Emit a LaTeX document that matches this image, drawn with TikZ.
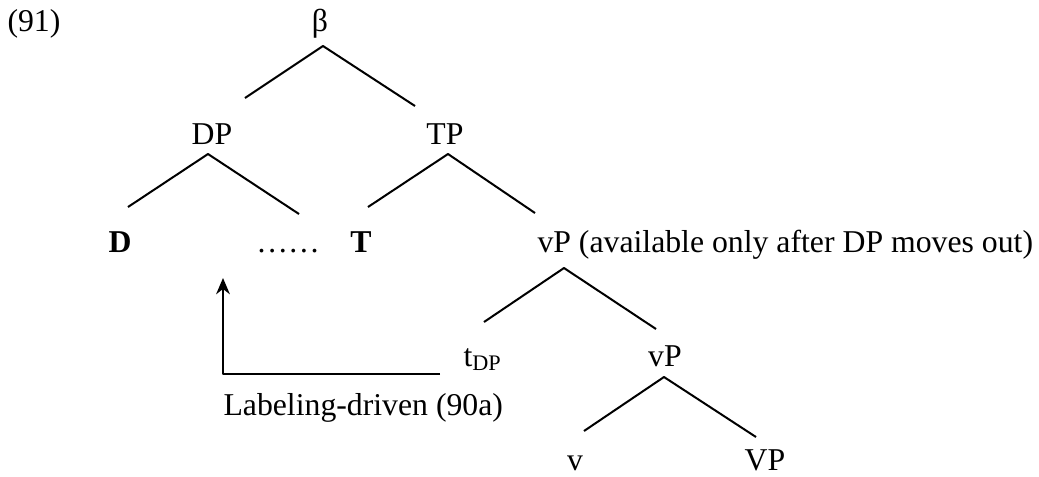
\documentclass[tikz,border=0pt]{standalone}
\usepackage{fontspec}
\setmainfont{Liberation Serif}
\usepackage{tikz}
\usetikzlibrary{arrows.meta}
\tikzset{
  every picture/.style={font=\fontsize{12.7}{15}\selectfont, line join=round, >=Stealth},
  branch/.style={line width=0.8pt},
  lbl/.style={anchor=base, inner sep=0pt},
  lblw/.style={anchor=base west, inner sep=0pt},
}

\begin{document}
\begin{tikzpicture}[x=0.4pt,y=-0.4pt]
\useasboundingbox (0,0) rectangle (1039,476);
% labels
\node[lbl] (num) at (34,31) {(91)};
\node[lbl] (beta) at (320,31) {β};
\node[lbl] (dp) at (212,144) {DP};
\node[lbl] (tp) at (445,144) {TP};
\node[lbl] (d) at (120,252) {\textbf{D}};
\node[lbl] (dots) at (288,252) {……};
\node[lbl] (t) at (361,252) {\textbf{T}};
\node[lblw] (vpa) at (537,252) {vP (available only after DP moves out)};
\node[lblw] (tdp) at (463,366) {t\textsubscript{DP}};
\node[lbl] (vpb) at (665,366) {vP};
\node[lbl] (v) at (575,470) {v};
\node[lbl] (vp) at (765,470) {VP};
\node[lblw] (lab) at (223,415) {Labeling-driven (90a)};
% branches
\draw[branch] (245,98) -- (323,46) -- (415,106);
\draw[branch] (128,207) -- (208,154) -- (299,214);
\draw[branch] (368,207) -- (448,154) -- (535,213);
\draw[branch] (484,322) -- (564,268) -- (656,329);
\draw[branch] (584,431) -- (664,377) -- (756,437);
% movement arrow
\coordinate (arrfrom) at (440,374);
\coordinate (arrto) at (223,278);
\draw[branch,-{Stealth[length=6.5pt,width=5.5pt]}] (arrfrom) -| (arrto);
\end{tikzpicture}
\end{document}
